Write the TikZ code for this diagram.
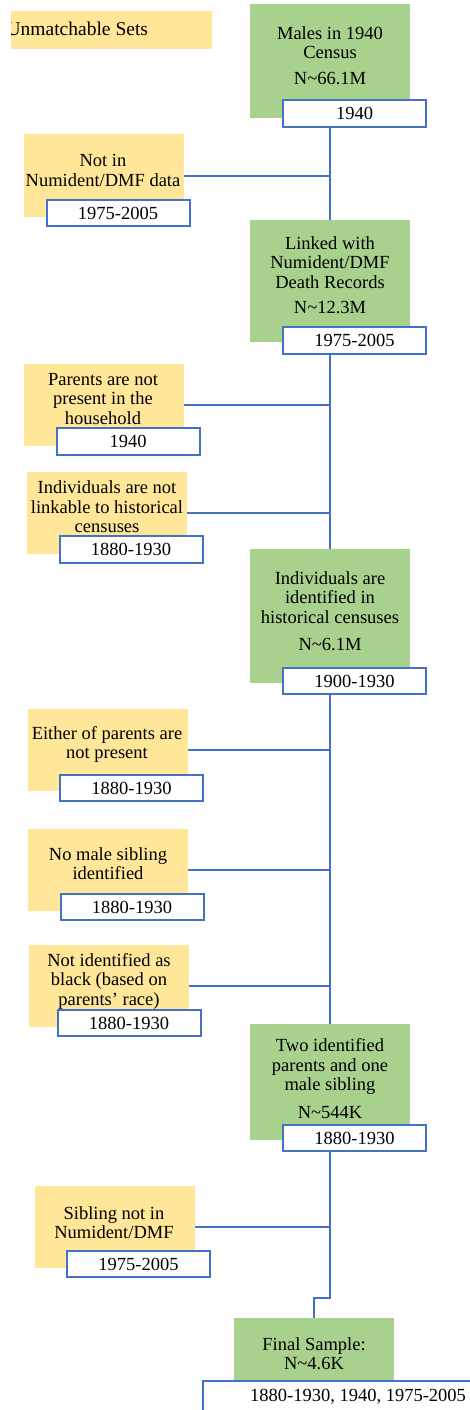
\documentclass[tikz,border=0pt]{standalone}
\usepackage{fontspec}
\setmainfont{Liberation Serif}
\definecolor{gfill}{HTML}{A9D18E}
\definecolor{yfill}{HTML}{FFE699}
\definecolor{bline}{HTML}{4472C4}
\begin{document}
\begin{tikzpicture}[x=1pt,y=-1pt,
  every node/.style={inner sep=0pt,outer sep=0pt,font=\fontsize{18.5pt}{19.5pt}\selectfont},
  gbox/.style={fill=gfill,minimum width=160pt},
  ybox/.style={fill=yfill,minimum width=160pt,minimum height=82pt},
  wbox/.style={fill=white,draw=bline,line width=2pt,minimum width=143pt,minimum height=26.5pt},
  lbl/.style={align=center},
  conn/.style={draw=bline,line width=2pt}]
\clip (0,0) rectangle (470,1410);
\fill[white] (0,0) rectangle (470,1410);
% title
\begin{scope}
\clip (11,0) rectangle (470,60);
\node[fill=yfill,minimum width=221pt,minimum height=38pt] (tbox) at (101.5,30) {};
\node[anchor=east,font=\fontsize{19.5pt}{20pt}\selectfont] (ttext) at (148,29) {Unmatchable Sets};
\end{scope}
% green boxes
\node[gbox,minimum height=114pt] (g1) at (330,61) {};
\node[gbox,minimum height=122pt] (g2) at (330,281) {};
\node[gbox,minimum height=134pt] (g3) at (330,616) {};
\node[gbox,minimum height=116pt] (g4) at (330,1082) {};
\node[gbox,minimum height=72pt] (g5) at (314,1354) {};
\node[lbl] (g1t) at (330,42.5) {Males in 1940\\Census};
\node (g1n) at (330,79) {N\textasciitilde 66.1M};
\node[lbl] (g2t) at (330,262.5) {Linked with\\Numident/DMF\\Death Records};
\node (g2n) at (330,308) {N\textasciitilde 12.3M};
\node[lbl] (g3t) at (330,597.5) {Individuals are\\identified in\\historical censuses};
\node (g3n) at (330,644) {N\textasciitilde 6.1M};
\node[lbl] (g4t) at (330,1066.5) {Two identified\\parents and one\\male sibling};
\node (g4n) at (330,1112) {N\textasciitilde 544K};
\node[lbl] (g5t) at (314,1353.5) {Final Sample:\\N\textasciitilde 4.6K};
% white boxes on green
\node[wbox] (w1) at (354.5,113.5) {1940};
\node[wbox] (w2) at (354.5,340.5) {1975-2005};
\node[wbox] (w3) at (354.5,681) {1900-1930};
\node[wbox] (w4) at (354.5,1138) {1880-1930};
\node[wbox,minimum width=310pt,minimum height=38pt] (w5) at (358,1400) {};
\node (w5t) at (358,1397) {1880-1930, 1940, 1975-2005};
% yellow boxes
\node[ybox] (y1) at (104,175.5) {};
\node[ybox] (y2) at (104,404.5) {};
\node[ybox] (y3) at (107,512.5) {};
\node[ybox] (y4) at (107.5,750) {};
\node[ybox] (y5) at (108,869.5) {};
\node[ybox] (y6) at (109,986) {};
\node[ybox] (y7) at (114.5,1227) {};
\node[lbl] (y1t) at (103,170.5) {Not in\\Numident/DMF data};
\node[lbl] (y2t) at (103,399) {Parents are not\\present in the\\household};
\node[lbl] (y3t) at (107,507) {Individuals are not\\linkable to historical\\censuses};
\node[lbl] (y4t) at (107,744.5) {Either of parents are\\not present};
\node[lbl] (y5t) at (108,863.5) {No male sibling\\identified};
\node[lbl] (y6t) at (109,981) {Not identified as\\black (based on\\parents' race)};
\node[lbl] (y7t) at (114,1222.5) {Sibling not in\\Numident/DMF};
% white boxes on yellow
\node[wbox] (v1) at (118,213) {1975-2005};
\node[wbox] (v2) at (128,441.5) {1940};
\node[wbox] (v3) at (131,549.5) {1880-1930};
\node[wbox] (v4) at (131.5,788) {1880-1930};
\node[wbox] (v5) at (132,907) {1880-1930};
\node[wbox] (v6) at (129,1023) {1880-1930};
\node[wbox] (v7) at (138.5,1264) {1975-2005};
% trunk
\coordinate (jog) at (330,1298);
\draw[conn] (w1.south -| g1) -- (g2.north);
\draw[conn] (w2.south -| g2) -- (g3.north);
\draw[conn] (w3.south -| g3) -- (g4.north);
\draw[conn] (w4.south -| g4) -- (jog) -| (g5.north);
% branches
\draw[conn] (y1.east) -- (y1.east -| g1);
\draw[conn] (y2.east) -- (y2.east -| g2);
\draw[conn] (y3.east) -- (y3.east -| g2);
\draw[conn] (y4.east) -- (y4.east -| g3);
\draw[conn] (y5.east) -- (y5.east -| g3);
\draw[conn] (y6.east) -- (y6.east -| g3);
\draw[conn] (y7.east) -- (y7.east -| g4);
\end{tikzpicture}
\end{document}
